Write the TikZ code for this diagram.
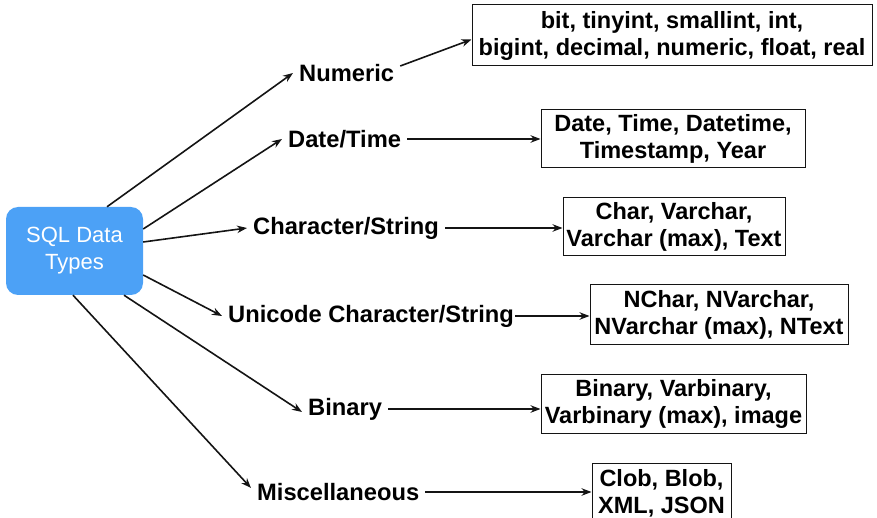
\documentclass[tikz,border=0pt]{standalone}
\usepackage{fontspec}
\setmainfont{Liberation Sans}
\usetikzlibrary{arrows.meta}
\definecolor{sqlblue}{RGB}{76,161,246}
\definecolor{edge}{RGB}{20,20,20}
\begin{document}
\begin{tikzpicture}[x=1pt,y=-1pt,
  conn/.style={draw=edge,line width=1.6pt,-{Stealth[length=10pt,width=7.5pt]}},
  cat/.style={font=\fontsize{23.7}{27}\selectfont\bfseries,anchor=west,inner xsep=6pt,inner ysep=2pt},
  typebox/.style={draw=edge,line width=1pt,fill=white,inner sep=0pt,align=center,
    font=\fontsize{23.5}{27}\selectfont\bfseries},
  root/.style={fill=sqlblue,rounded corners=12pt,text=white,align=center,inner sep=0pt,
    font=\fontsize{22}{27}\selectfont}]
\useasboundingbox (0,0) rectangle (877,518);

% root node
\node[root,minimum width=137pt,minimum height=88pt] (sql) at (74.5,251) {SQL Data\\Types};

% category labels
\node[cat] (num)  at (293,73)  {Numeric};
\node[cat] (dt)   at (282,139) {Date/Time};
\node[cat] (chr)  at (247,228) {Character/String};
\node[cat] (uni)  at (222,316) {Unicode Character/String};
\node[cat] (bin)  at (302,409) {Binary};
\node[cat] (misc) at (251,492) {Miscellaneous};

% type boxes
\node[typebox,minimum width=400pt,minimum height=61pt] (nbox) at (672,35.5)
  {bit, tinyint, smallint, int,\\ bigint, decimal, numeric, float, real};
\node[typebox,minimum width=264pt,minimum height=58pt] (dbox) at (673,139)
  {Date, Time, Datetime,\\Timestamp, Year};
\node[typebox,minimum width=222pt,minimum height=58pt] (cbox) at (674,227)
  {Char, Varchar,\\Varchar (max), Text};
\node[typebox,minimum width=258pt,minimum height=59pt] (ubox) at (719,314.5)
  {NChar, NVarchar,\\NVarchar (max), NText};
\node[typebox,minimum width=265pt,minimum height=59pt] (bbox) at (673.5,403.5)
  {Binary, Varbinary,\\Varbinary (max), image};
\node[typebox,minimum width=139pt,minimum height=60pt] (mbox) at (661.5,493)
  {Clob, Blob,\\XML, JSON};

% root to categories
\draw[conn] ([xshift=32.5pt]sql.north) -- (num.west);
\draw[conn] ([yshift=22pt]sql.east) -- (dt.west);
\draw[conn] ([yshift=9pt]sql.east) -- (chr.west);
\draw[conn] ([yshift=-24pt]sql.east) -- (uni.west);
\draw[conn] ([xshift=49.5pt]sql.south) -- ([yshift=-3pt]bin.west);
\draw[conn] ([xshift=-1.5pt]sql.south) -- ([yshift=4pt]misc.west);

% categories to type boxes
\draw[conn] ([yshift=7pt]num.east) -- ([yshift=-4pt]nbox.west);
\draw[conn] (dt.east) -- (dt.east -| dbox.west);
\draw[conn] (chr.east) -- (chr.east -| cbox.west);
\draw[conn] ([xshift=-5pt]uni.east) -- (uni.east -| ubox.west);
\draw[conn] (bin.east) -- (bin.east -| bbox.west);
\draw[conn] (misc.east) -- (misc.east -| mbox.west);
\end{tikzpicture}
\end{document}
